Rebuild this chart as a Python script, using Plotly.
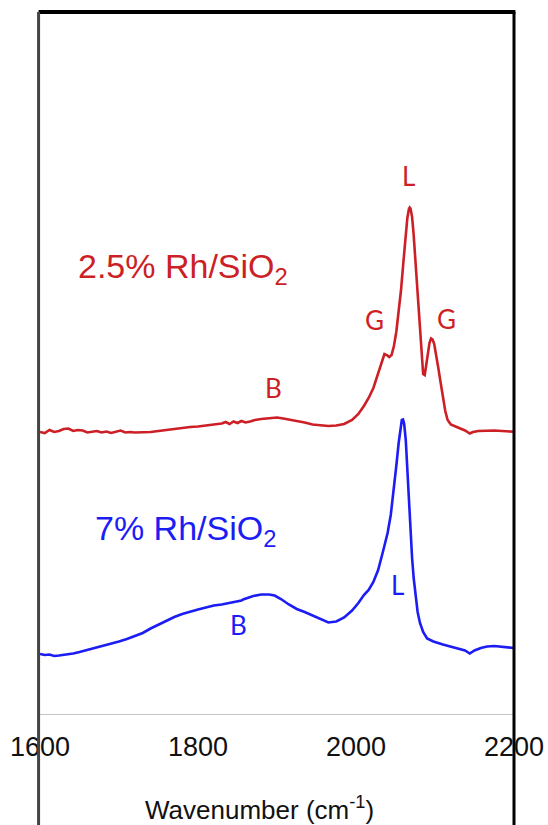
import plotly.graph_objects as go

# IR spectra of CO adsorbed on Rh/SiO2 (absorbance, arbitrary offset)
wn_25 = [1600, 1606, 1612, 1618, 1624, 1630, 1636, 1642, 1648, 1654, 1660, 1666, 1672, 1678,
         1684, 1690, 1696, 1702, 1708, 1714, 1720, 1730, 1740, 1750, 1760, 1770, 1780, 1790,
         1800, 1810, 1820, 1830, 1835, 1840, 1845, 1850, 1855, 1860, 1866, 1872, 1880, 1890,
         1900, 1908, 1916, 1925, 1935, 1945, 1955, 1965, 1975, 1985, 1995, 2003, 2010, 2016,
         2022, 2028, 2033, 2036, 2039, 2042, 2045, 2048, 2051, 2054, 2057, 2060, 2063, 2065,
         2067, 2068, 2069, 2071, 2073, 2075, 2077, 2079, 2081, 2083, 2085, 2087, 2089, 2091,
         2093, 2095, 2097, 2099, 2101, 2104, 2107, 2110, 2113, 2116, 2120, 2126, 2132, 2138,
         2144, 2148, 2155, 2165, 2175, 2185, 2195, 2200]
abs_25 = [0.282, 0.281, 0.284, 0.282, 0.283, 0.285, 0.2855, 0.283, 0.284, 0.2835, 0.2815, 0.282,
          0.283, 0.2815, 0.2825, 0.281, 0.282, 0.2835, 0.2815, 0.282, 0.2815, 0.2815, 0.282,
          0.283, 0.284, 0.2855, 0.2865, 0.287, 0.2875, 0.2885, 0.2895, 0.2905, 0.292, 0.290,
          0.2925, 0.291, 0.293, 0.2915, 0.2925, 0.294, 0.295, 0.296, 0.2965, 0.2955, 0.2945,
          0.293, 0.2915, 0.2895, 0.2885, 0.288, 0.2885, 0.290, 0.294, 0.300, 0.308, 0.316,
          0.326, 0.340, 0.354, 0.360, 0.359, 0.357, 0.359, 0.368, 0.382, 0.401, 0.424, 0.452,
          0.478, 0.496, 0.505, 0.5065, 0.5055, 0.497, 0.479, 0.456, 0.431, 0.409, 0.382, 0.356,
          0.340, 0.339, 0.349, 0.362, 0.371, 0.3755, 0.3745, 0.370, 0.362, 0.347, 0.332, 0.317,
          0.303, 0.294, 0.2895, 0.2875, 0.2855, 0.2835, 0.2805, 0.282, 0.283, 0.2835, 0.2835,
          0.283, 0.2825, 0.2822]

wn_7 = [1600, 1606, 1612, 1618, 1624, 1630, 1636, 1642, 1650, 1660, 1670, 1680, 1690, 1700,
        1710, 1720, 1730, 1740, 1750, 1760, 1770, 1780, 1790, 1800, 1810, 1820, 1830, 1840,
        1850, 1855, 1858, 1862, 1870, 1880, 1890, 1897, 1905, 1915, 1925, 1935, 1945, 1955,
        1965, 1975, 1985, 1995, 2003, 2010, 2016, 2022, 2028, 2034, 2040, 2044, 2048, 2051,
        2054, 2056, 2058, 2059.5, 2061, 2063, 2065, 2067, 2069, 2071, 2073, 2075, 2078, 2081,
        2085, 2090, 2098, 2110, 2120, 2130, 2138, 2144, 2150, 2158, 2166, 2175, 2185, 2195, 2200]
abs_7 = [0.060, 0.059, 0.0595, 0.058, 0.0585, 0.059, 0.0595, 0.0605, 0.062, 0.064, 0.066, 0.068,
         0.070, 0.0725, 0.075, 0.078, 0.081, 0.0855, 0.0895, 0.0935, 0.097, 0.100, 0.1025,
         0.1045, 0.1065, 0.1085, 0.1095, 0.111, 0.1125, 0.1135, 0.1148, 0.1158, 0.118, 0.1195,
         0.1195, 0.1185, 0.115, 0.1095, 0.105, 0.102, 0.0985, 0.0945, 0.0915, 0.0925, 0.0965,
         0.1035, 0.111, 0.119, 0.124, 0.132, 0.144, 0.162, 0.181, 0.199, 0.224, 0.248, 0.271,
         0.285, 0.294, 0.2945, 0.290, 0.274, 0.244, 0.209, 0.179, 0.156, 0.136, 0.120, 0.102,
         0.091, 0.082, 0.0755, 0.0725, 0.0695, 0.0675, 0.0655, 0.0635, 0.0605, 0.0635, 0.066,
         0.0675, 0.068, 0.0675, 0.0665, 0.066]

x_ticks = [1600, 1800, 2000, 2200]

RED = "#cc1f26"
BLUE = "#1c1cf5"

fig = go.Figure()
fig.add_trace(go.Scatter(x=wn_25, y=abs_25, mode="lines",
                         line=dict(color=RED, width=2.6), showlegend=False))
fig.add_trace(go.Scatter(x=wn_7, y=abs_7, mode="lines",
                         line=dict(color=BLUE, width=2.6), showlegend=False))

# sample labels
fig.add_annotation(x=1645, y=0.446, text="2.5% Rh/SiO<sub>2</sub>", showarrow=False,
                   xanchor="left", yanchor="middle",
                   font=dict(family="Liberation Sans", size=34, color=RED))
fig.add_annotation(x=1667, y=0.184, text="7% Rh/SiO<sub>2</sub>", showarrow=False,
                   xanchor="left", yanchor="middle",
                   font=dict(family="Liberation Sans", size=34, color=BLUE))

# band assignments: L = linear, G = gem-dicarbonyl, B = bridged
bands = [
    (2067, 0.538, "L", RED), (2023, 0.394, "G", RED), (2114, 0.395, "G", RED),
    (1895, 0.326, "B", RED), (1851, 0.089, "B", BLUE), (2053, 0.129, "L", BLUE),
]
for bx, by, txt, col in bands:
    fig.add_annotation(x=bx, y=by, text=txt, showarrow=False, xanchor="center",
                       yanchor="middle", font=dict(family="Lato", size=26, color=col))

# axis title
fig.add_annotation(xref="paper", yref="paper", x=0.464, y=-0.134, text="Wavenumber (cm<sup>-1</sup>)",
                   showarrow=False, xanchor="center", yanchor="middle",
                   font=dict(family="Liberation Sans", size=26, color="#111"))

# frame: top edge and side rails running past the axis
frame = [
    dict(x0=-0.003, x1=1.003, y0=1.0, y1=1.0, color="#000", width=4),
    dict(x0=-0.003, x1=-0.003, y0=1.0, y1=-0.17, color="#444", width=3),
    dict(x0=1.0, x1=1.0, y0=1.0, y1=-0.17, color="#000", width=3),
]
for f in frame:
    fig.add_shape(type="line", xref="paper", yref="paper", x0=f["x0"], x1=f["x1"],
                  y0=f["y0"], y1=f["y1"], line=dict(color=f["color"], width=f["width"]),
                  layer="above")

fig.update_layout(
    width=548, height=825,
    margin=dict(l=40, r=34, t=12, b=111, autoexpand=False),
    paper_bgcolor="white", plot_bgcolor="white",
    xaxis=dict(range=[1600, 2200], tickvals=x_ticks, ticktext=[str(v) for v in x_ticks],
               showgrid=False, zeroline=False, showline=True, linecolor="#c4c4c4",
               linewidth=1, ticks="", ticklabelstandoff=9, automargin=False,
               tickfont=dict(family="Liberation Sans", size=27, color="#111")),
    yaxis=dict(range=[0, 0.702], visible=False, automargin=False),
)

fig.write_html("out.html")
